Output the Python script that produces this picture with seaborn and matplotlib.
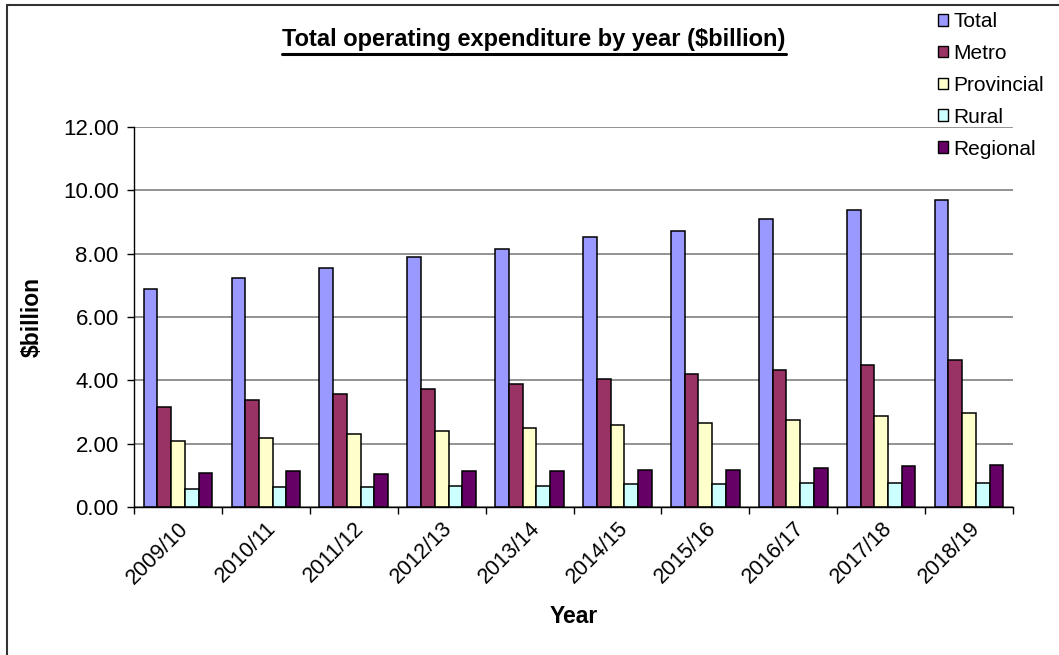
import matplotlib
matplotlib.use("Agg")
import matplotlib.pyplot as plt
from matplotlib.lines import Line2D
from matplotlib.patches import Patch
import numpy as np
import pandas as pd
import seaborn as sns

# Operating expenditure ($billion) by council group
years = ["2009/10", "2010/11", "2011/12", "2012/13", "2013/14",
         "2014/15", "2015/16", "2016/17", "2017/18", "2018/19"]
total = [6.90, 7.24, 7.55, 7.91, 8.16, 8.53, 8.73, 9.08, 9.39, 9.69]
metro = [3.16, 3.37, 3.57, 3.73, 3.87, 4.03, 4.19, 4.34, 4.50, 4.65]
provincial = [2.08, 2.19, 2.30, 2.40, 2.51, 2.60, 2.65, 2.76, 2.86, 2.97]
rural = [0.56, 0.62, 0.62, 0.66, 0.66, 0.72, 0.72, 0.77, 0.77, 0.77]
regional = [1.07, 1.13, 1.03, 1.13, 1.13, 1.18, 1.18, 1.23, 1.28, 1.34]

groups = ["Total", "Metro", "Provincial", "Rural", "Regional"]
colors = ["#9999FF", "#993366", "#FFFFCC", "#CCFFFF", "#660066"]

df = pd.DataFrame({
    "Year": np.tile(years, len(groups)),
    "Group": np.repeat(groups, len(years)),
    "Value": np.concatenate([total, metro, provincial, rural, regional]),
})

sns.set_theme(style="white")
plt.rcParams["font.family"] = ["Liberation Sans", "DejaVu Sans"]
plt.rcParams.update({"text.color": "black", "axes.labelcolor": "black",
                     "xtick.color": "black", "ytick.color": "black"})

W, H = 1059, 655
fig = plt.figure(figsize=(W / 100, H / 100), dpi=100)
ax = fig.add_axes([134 / W, 1 - 507 / H, (1013 - 134) / W, (507 - 127) / H])

sns.barplot(data=df, x="Year", y="Value", hue="Group", order=years,
            hue_order=groups, palette=colors, width=0.78, ax=ax,
            edgecolor="black", linewidth=1.1, saturation=1, legend=False)

ax.set_ylim(0, 12)
ax.set_xlim(-0.5, len(years) - 0.5)
ax.set_yticks(np.arange(0, 12.01, 2))
ax.set_yticklabels([f"{v:.2f}" for v in np.arange(0, 12.01, 2)], fontsize=16)
ax.yaxis.grid(True, color="#808080", linewidth=1.2)
ax.set_axisbelow(True)

for side in ["top", "right"]:
    ax.spines[side].set_visible(False)
for side in ["left", "bottom"]:
    ax.spines[side].set_color("black")
    ax.spines[side].set_linewidth(1.0)

ax.tick_params(axis="y", which="major", direction="out", length=5,
               width=1, color="black", labelcolor="black", left=True, pad=6)
ax.tick_params(axis="x", which="major", length=0, pad=8, labelcolor="black")
ax.set_xticks(np.arange(-0.5, len(years)), minor=True)
ax.tick_params(axis="x", which="minor", direction="out", length=5,
               width=1, color="black", bottom=True)
plt.setp(ax.get_xticklabels(), rotation=45, ha="right",
         rotation_mode="anchor", fontsize=15.5)

ax.set_xlabel("Year", fontsize=16.5, fontweight="bold", labelpad=12,
              color="black")
ax.set_ylabel("$billion", fontsize=16.5, fontweight="bold", labelpad=14,
              color="black")

title = fig.text(534 / W, 1 - 46 / H,
                 "Total operating expenditure by year ($billion)",
                 ha="center", va="baseline", fontsize=17, fontweight="bold",
                 color="black")

handles = [Patch(facecolor=c, edgecolor="black", linewidth=1.0) for c in colors]
leg = fig.legend(handles, groups, loc="upper left",
                 bbox_to_anchor=(938 / W, 1 - 12 / H), frameon=False,
                 fontsize=15, handlelength=0.5, handleheight=0.5,
                 handletextpad=0.25, labelspacing=0.62, borderaxespad=0,
                 borderpad=0)
for t in leg.get_texts():
    t.set_color("black")

# Underline the title
fig.canvas.draw()
bb = title.get_window_extent()
uy = 1 - 54 / H
fig.add_artist(Line2D([bb.x0 / W, bb.x1 / W], [uy, uy],
                      transform=fig.transFigure, color="black", linewidth=2.2))

# Chart-area frame (top and left edges)
fig.add_artist(Line2D([7 / W, 7 / W], [0, 1 - 5 / H],
                      transform=fig.transFigure, color="#333333", linewidth=1.5))
fig.add_artist(Line2D([7 / W, 1], [1 - 5 / H, 1 - 5 / H],
                      transform=fig.transFigure, color="#333333", linewidth=1.5))

fig.savefig("out.png", dpi=100, facecolor="white")
